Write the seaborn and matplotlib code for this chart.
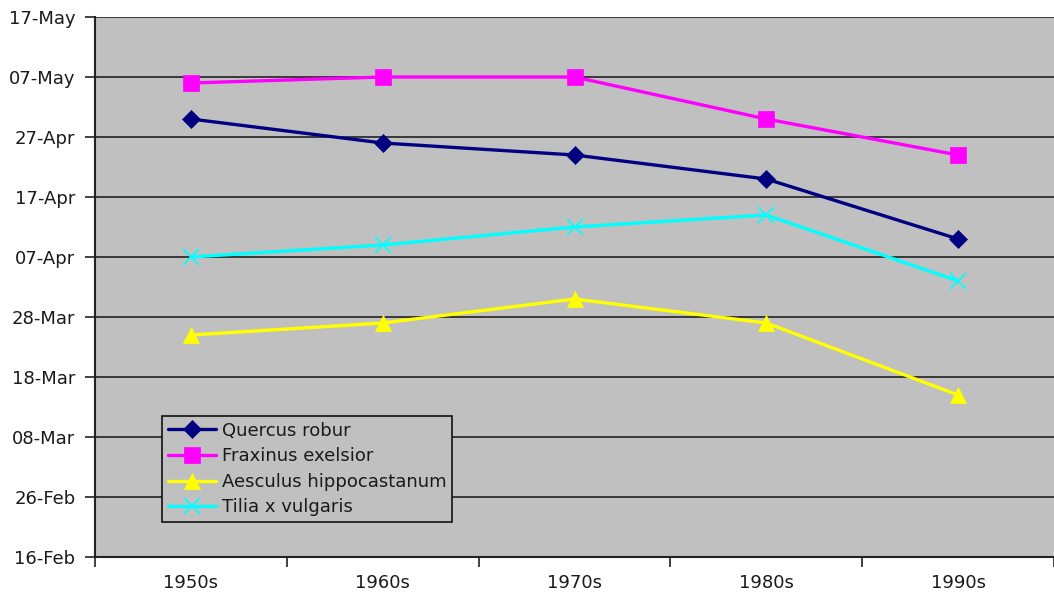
import datetime as dt

import matplotlib
matplotlib.use("Agg")
import matplotlib.pyplot as plt
import pandas as pd
import seaborn as sns

# Mean leafing dates per decade
decades = ["1950s", "1960s", "1970s", "1980s", "1990s"]
quercus_robur = ["30-Apr", "26-Apr", "24-Apr", "20-Apr", "10-Apr"]
fraxinus_exelsior = ["06-May", "07-May", "07-May", "30-Apr", "24-Apr"]
aesculus_hippocastanum = ["25-Mar", "27-Mar", "31-Mar", "27-Mar", "15-Mar"]
tilia_vulgaris = ["07-Apr", "09-Apr", "12-Apr", "14-Apr", "03-Apr"]

y_tick_labels = ["16-Feb", "26-Feb", "08-Mar", "18-Mar", "28-Mar",
                 "07-Apr", "17-Apr", "27-Apr", "07-May", "17-May"]

series_names = ["Quercus robur", "Fraxinus exelsior",
                "Aesculus hippocastanum", "Tilia x vulgaris"]
series_values = [quercus_robur, fraxinus_exelsior,
                 aesculus_hippocastanum, tilia_vulgaris]


def day_of_year(label):
    return dt.datetime.strptime(label + "-2001", "%d-%b-%Y").timetuple().tm_yday


rows = []
for name, vals in zip(series_names, series_values):
    for dec, v in zip(decades, vals):
        rows.append({"decade": dec, "species": name, "day": day_of_year(v)})
df = pd.DataFrame(rows)

styles = {
    "Quercus robur": dict(color="#000080", marker="D", ms=9),
    "Fraxinus exelsior": dict(color="#FF00FF", marker="s", ms=11),
    "Aesculus hippocastanum": dict(color="#FFFF00", marker="^", ms=12),
    "Tilia x vulgaris": dict(color="#00FFFF", marker="x", ms=11),
}

sns.set_theme(style="white")
plt.rcParams["font.family"] = ["DejaVu Sans"]

W, H = 1054, 595
fig = plt.figure(figsize=(W / 100, H / 100), dpi=100)
ax = fig.add_axes([95 / W, (H - 557) / H, 1 - 95 / W, (557 - 17) / H])
ax.set_facecolor("#C0C0C0")

for name in series_names:
    st = styles[name]
    sub = df[df["species"] == name]
    sns.lineplot(data=sub, x="decade", y="day", ax=ax, color=st["color"],
                 linewidth=2.4, marker=st["marker"], markersize=st["ms"],
                 markeredgecolor=st["color"], markerfacecolor=st["color"],
                 markeredgewidth=1.2 if st["marker"] == "x" else 0.5,
                 label=name, sort=False)

ax.set_xlim(-0.5, len(decades) - 0.5)
y_ticks = [day_of_year(t) for t in y_tick_labels]
ax.set_ylim(y_ticks[0], y_ticks[-1])
ax.set_yticks(y_ticks)
ax.set_yticklabels(y_tick_labels)
ax.set_xticks(range(len(decades)))
ax.set_xticklabels(decades)
ax.set_xticks([i - 0.5 for i in range(len(decades) + 1)], minor=True)

ax.set_xlabel("")
ax.set_ylabel("")
ax.yaxis.grid(True, color="#222222", linewidth=1.2)
ax.set_axisbelow(True)

for side in ["top", "right"]:
    ax.spines[side].set_visible(False)
for side in ["left", "bottom"]:
    ax.spines[side].set_color("#222222")
    ax.spines[side].set_linewidth(1.5)

ax.tick_params(axis="y", which="major", left=True, length=7, width=1.2,
               color="#222222", labelsize=13, labelcolor="#1a1a1a", pad=7)
ax.tick_params(axis="x", which="major", bottom=False, labelsize=13,
               labelcolor="#1a1a1a", pad=6.5)
ax.tick_params(axis="x", which="minor", bottom=True, length=7, width=1.2,
               color="#222222")

leg = ax.legend(loc="lower left", bbox_to_anchor=(0.07, 0.065),
                borderaxespad=0, fancybox=False, framealpha=1,
                facecolor="#C0C0C0", edgecolor="#111111", fontsize=13,
                handlelength=2.7, handletextpad=0.3, labelspacing=0.42,
                borderpad=0.3)
leg.get_frame().set_linewidth(1.2)
for t in leg.get_texts():
    t.set_color("#1a1a1a")

fig.savefig("out.png", dpi=100, facecolor="white")
